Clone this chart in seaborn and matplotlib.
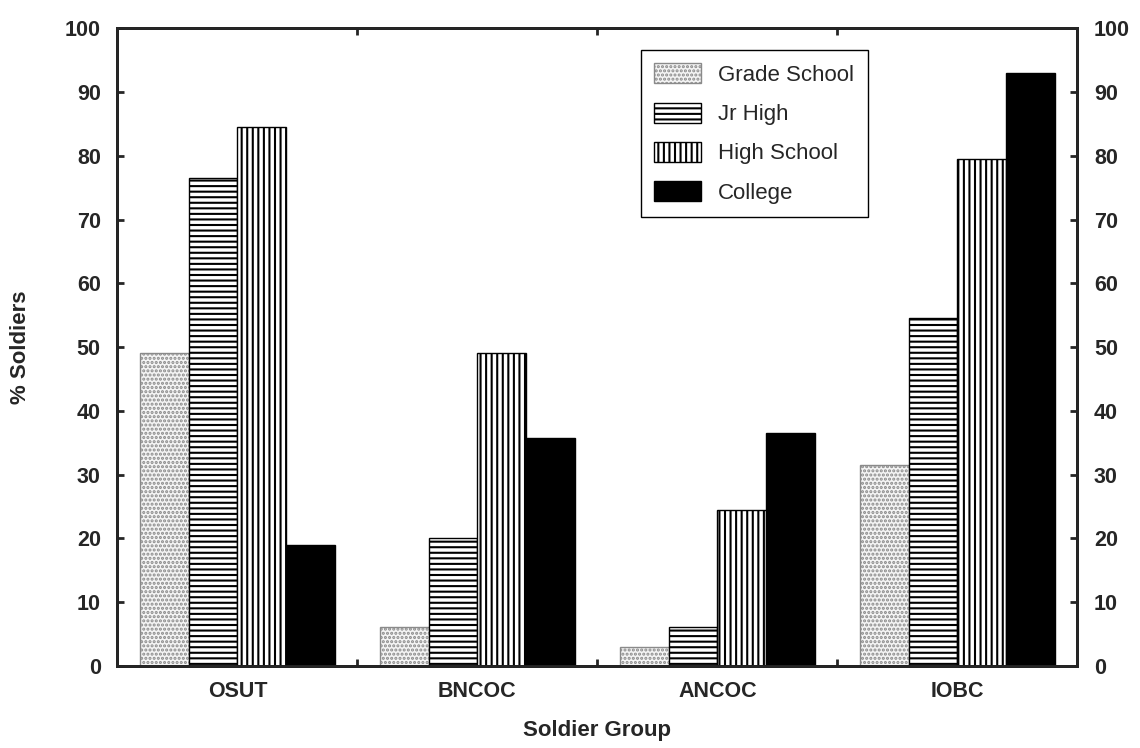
import matplotlib
matplotlib.use('Agg')
import matplotlib.pyplot as plt
import pandas as pd
import seaborn as sns

# data
groups = ['OSUT', 'BNCOC', 'ANCOC', 'IOBC']
levels = ['Grade School', 'Jr High', 'High School', 'College']
grade_school = [49, 6, 3, 31.5]
jr_high = [76.5, 20, 6, 54.5]
high_school = [84.5, 49, 24.5, 79.5]
college = [19, 35.7, 36.5, 93]

df = pd.DataFrame({
    'group': groups * 4,
    'level': [lv for lv in levels for _ in groups],
    'pct': grade_school + jr_high + high_school + college,
})

sns.set_style('white')
plt.rcParams['font.family'] = ['Liberation Sans', 'DejaVu Sans']
plt.rcParams['hatch.linewidth'] = 1.5

fig, ax = plt.subplots(figsize=(11.4, 7.48), dpi=100)
fig.subplots_adjust(left=0.103, right=0.945, top=0.962, bottom=0.11)

sns.barplot(data=df, x='group', y='pct', hue='level', order=groups,
            hue_order=levels, width=0.81, palette=['white'] * 4,
            legend=False, ax=ax)

# fill style per education level
styles = [
    dict(facecolor='#f4f4f4', edgecolor='#8a8a8a', hatch='....'),
    dict(facecolor='white', edgecolor='black', hatch='---'),
    dict(facecolor='white', edgecolor='black', hatch='|||'),
    dict(facecolor='black', edgecolor='black', hatch=None),
]
for container, st in zip(ax.containers, styles):
    for bar in container:
        bar.set_facecolor(st['facecolor'])
        bar.set_edgecolor(st['edgecolor'])
        bar.set_hatch(st['hatch'])
        bar.set_linewidth(1)

ax.set_xlim(-0.5, 3.5)
ax.set_ylim(0, 100)
ax.set_yticks(range(0, 101, 10))
ax.set_xticks([0.5, 1.5, 2.5], minor=True)
ax.tick_params(axis='x', which='major', length=0, pad=11, labelsize=15.5)
ax.tick_params(axis='x', which='minor', direction='in', length=5, width=2,
               top=True, bottom=True)
ax.tick_params(axis='y', direction='in', length=5, width=2, pad=12,
               labelsize=15.5, left=True)
for lab in ax.get_xticklabels() + ax.get_yticklabels():
    lab.set_fontweight('bold')

for sp in ax.spines.values():
    sp.set_linewidth(2)
    sp.set_color('black')

ax.set_xlabel('Soldier Group', fontsize=16, fontweight='bold', labelpad=13)
ax.set_ylabel('% Soldiers', fontsize=16, fontweight='bold', labelpad=24)

ax2 = ax.twinx()
ax2.set_ylim(0, 100)
ax2.set_yticks(range(0, 101, 10))
ax2.tick_params(axis='y', direction='in', length=5, width=2, pad=12,
                labelsize=15.5)
for lab in ax2.get_yticklabels():
    lab.set_fontweight('bold')
for sp in ax2.spines.values():
    sp.set_linewidth(2)

handles = [c.patches[0] for c in ax.containers]
leg = ax.legend(handles, levels, loc='upper left',
                bbox_to_anchor=(0.545, 0.966), borderaxespad=0,
                fontsize=16, handlelength=2.1, handleheight=1.0,
                handletextpad=0.8, labelspacing=0.75, borderpad=0.6,
                fancybox=False, framealpha=1, edgecolor='black')
leg.get_frame().set_linewidth(1)

fig.savefig('out.png', dpi=100)
